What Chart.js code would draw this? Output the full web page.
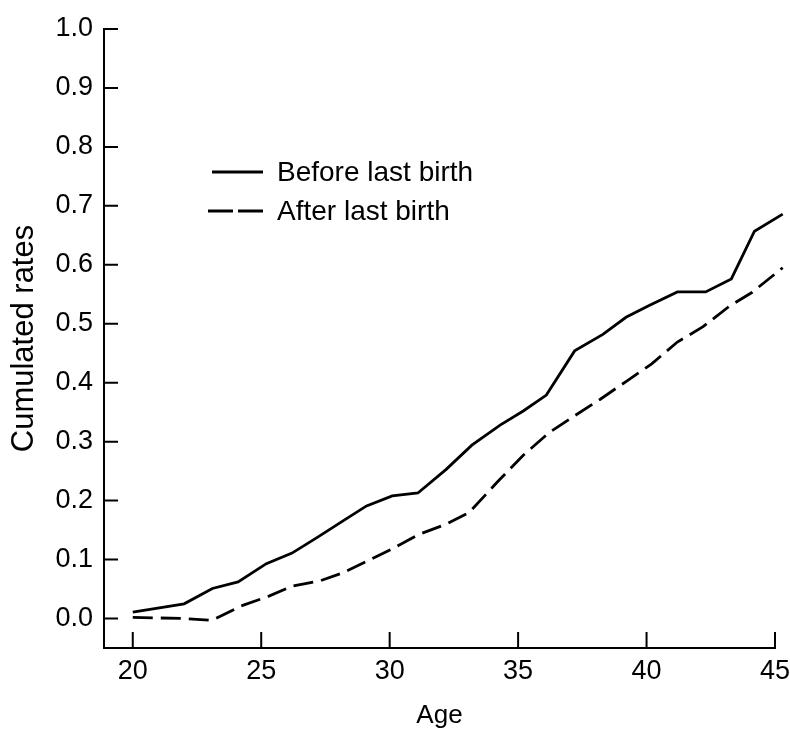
<!DOCTYPE html>
<html>
<head>
<meta charset="utf-8">
<script src="https://cdn.jsdelivr.net/npm/chart.js@4"></script>
<style>
  html, body { margin: 0; padding: 0; background: #fff; }
  #chart { display: block; }
</style>
</head>
<body>
<canvas id="chart" width="790" height="729"></canvas>
<script>
// values
const seriesNames = ['Before last birth', 'After last birth'];

const beforeAges = [20.0, 22.0, 23.1, 24.1, 25.2, 26.2, 27.2, 28.2, 29.1, 30.1, 31.1, 32.2, 33.2, 34.3, 35.2, 36.1, 37.2, 38.3, 39.2, 40.1, 41.2, 42.3, 43.3, 44.2, 45.3];
const beforeRates = [0.011, 0.025, 0.051, 0.062, 0.093, 0.111, 0.138, 0.166, 0.191, 0.208, 0.213, 0.253, 0.294, 0.328, 0.352, 0.379, 0.454, 0.482, 0.511, 0.531, 0.554, 0.554, 0.576, 0.657, 0.686];

const afterAges = [20.0, 22.0, 23.1, 24.2, 25.3, 26.2, 27.3, 28.2, 29.1, 30.1, 31.1, 32.2, 33.1, 34.2, 35.2, 36.2, 37.2, 38.2, 39.2, 40.2, 41.2, 42.2, 43.2, 44.1, 45.3];
const afterRates = [0.002, 0.0, -0.003, 0.021, 0.038, 0.055, 0.064, 0.078, 0.097, 0.118, 0.142, 0.160, 0.180, 0.232, 0.277, 0.315, 0.344, 0.372, 0.402, 0.432, 0.469, 0.495, 0.529, 0.553, 0.595];

const ageTicks = [20, 25, 30, 35, 40, 45];
const rateTicks = [0, 0.1, 0.2, 0.3, 0.4, 0.5, 0.6, 0.7, 0.8, 0.9, 1.0];

Chart.defaults.font.family = "'Liberation Sans', Arial, sans-serif";
Chart.defaults.color = '#000';

const toPoints = (xs, ys) => xs.map((x, i) => ({ x: x, y: ys[i] }));

// tick marks point into the plot, like the printed figure
const insideTicks = {
    id: 'insideTicks',
    afterDraw(chart) {
        const { ctx, chartArea, scales } = chart;
        ctx.save();
        ctx.strokeStyle = '#000';
        ctx.lineWidth = 2;
        ctx.beginPath();
        scales.y.ticks.forEach(t => {
            const y = scales.y.getPixelForValue(t.value);
            ctx.moveTo(chartArea.left, y);
            ctx.lineTo(chartArea.left + 14, y);
        });
        scales.x.ticks.forEach(t => {
            const x = scales.x.getPixelForValue(t.value);
            ctx.moveTo(x, chartArea.bottom);
            ctx.lineTo(x, chartArea.bottom - 16);
        });
        ctx.stroke();
        ctx.restore();
    },
};

// key drawn inside the plot area, upper left
const innerLegend = {
    id: 'innerLegend',
    afterDraw(chart) {
        const ctx = chart.ctx;
        const rows = [
            { x1: 212, x2: 263, y: 172 },
            { x1: 208, x2: 263, y: 211 },
        ];
        ctx.save();
        chart.data.datasets.forEach((ds, i) => {
            const r = rows[i];
            ctx.strokeStyle = ds.borderColor;
            ctx.lineWidth = ds.borderWidth;
            ctx.setLineDash(i === 1 ? [25, 5] : []);
            ctx.beginPath();
            ctx.moveTo(r.x1, r.y);
            ctx.lineTo(r.x2, r.y);
            ctx.stroke();
            ctx.setLineDash([]);
            ctx.fillStyle = '#000';
            ctx.font = "28px 'Liberation Sans', Arial, sans-serif";
            ctx.textBaseline = 'middle';
            ctx.fillText(ds.label, 277, r.y + 1);
        });
        ctx.restore();
    },
};

new Chart(document.getElementById('chart'), {
    type: 'line',
    data: {
        datasets: [{
            label: seriesNames[0],
            data: toPoints(beforeAges, beforeRates),
            borderColor: '#000',
            borderWidth: 2.8,
            pointRadius: 0,
            tension: 0,
            clip: false,
        }, {
            label: seriesNames[1],
            data: toPoints(afterAges, afterRates),
            borderColor: '#000',
            borderWidth: 2.8,
            borderDash: [20, 8],
            pointRadius: 0,
            tension: 0,
            clip: false,
        }],
    },
    options: {
        responsive: false,
        animation: false,
        layout: {
            padding: { top: 29, right: 15, left: 0, bottom: 0 },
        },
        plugins: {
            legend: { display: false },
            tooltip: { enabled: false },
        },
        scales: {
            x: {
                type: 'linear',
                min: 18.88,
                max: 45,
                grid: { display: false },
                border: { display: true, color: '#000', width: 2 },
                afterBuildTicks: scale => {
                    scale.ticks = ageTicks.map(v => ({ value: v }));
                },
                afterFit: scale => {
                    scale.height = 81;
                },
                ticks: {
                    padding: -1,
                    font: { size: 27 },
                    color: '#000',
                    maxRotation: 0,
                    callback: v => String(v),
                },
                title: {
                    display: true,
                    text: 'Age',
                    font: { size: 26, lineHeight: 1 },
                    padding: { top: 0, bottom: 0 },
                    color: '#000',
                },
            },
            y: {
                type: 'linear',
                min: -0.05,
                max: 1.0,
                grid: { display: false },
                border: { display: true, color: '#000', width: 2 },
                afterBuildTicks: scale => {
                    scale.ticks = rateTicks.map(v => ({ value: v }));
                },
                afterFit: scale => {
                    scale.width = 104;
                },
                ticks: {
                    padding: 3,
                    font: { size: 27 },
                    color: '#000',
                    callback: v => Number(v).toFixed(1),
                },
                title: {
                    display: true,
                    text: 'Cumulated rates',
                    font: { size: 31 },
                    padding: { top: 6, bottom: 0 },
                    color: '#000',
                },
            },
        },
    },
    plugins: [insideTicks, innerLegend],
});
</script>
</body>
</html>
